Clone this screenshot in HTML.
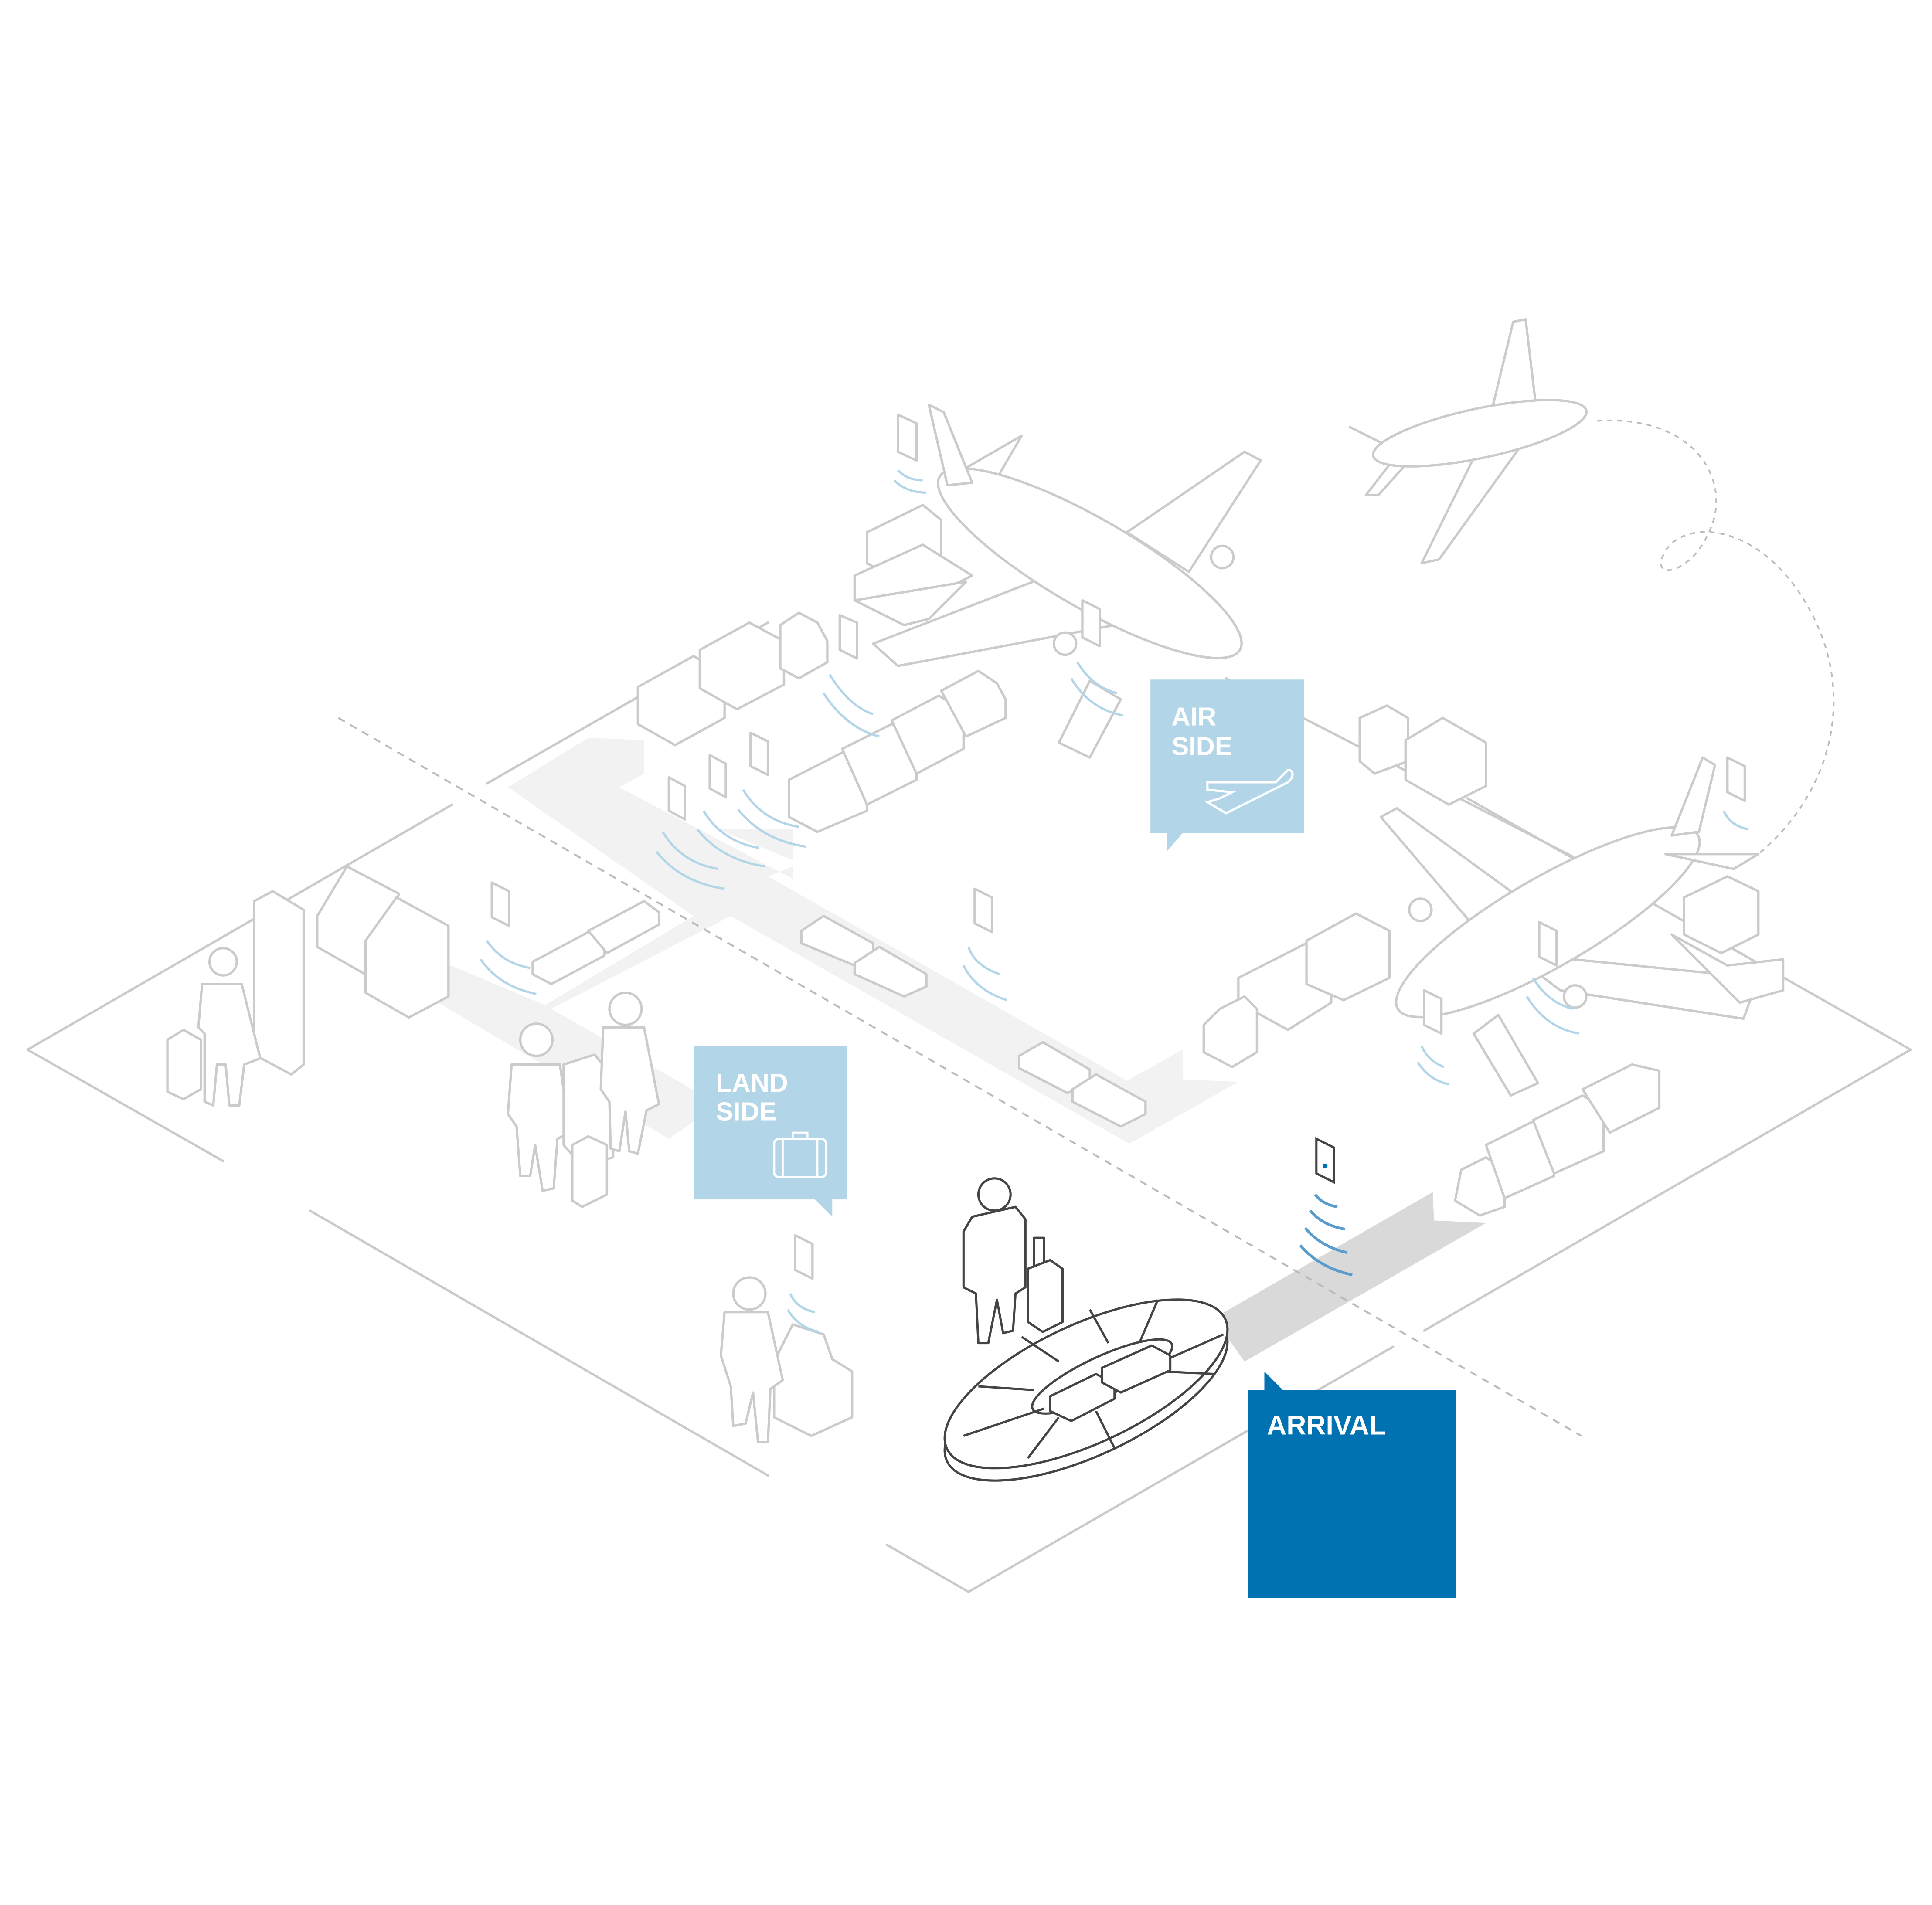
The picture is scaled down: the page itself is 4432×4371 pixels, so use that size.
<!DOCTYPE html>
<html><head><meta charset="utf-8"><style>
html,body{margin:0;padding:0;background:#fff;}
svg{display:block}
text{font-family:"Liberation Sans",sans-serif;font-weight:bold;fill:#fff}
</style></head><body>
<svg width="4432" height="4371" viewBox="0 0 1560 1539" xmlns="http://www.w3.org/2000/svg">
<g fill="none" stroke="#cbcbcb" stroke-width="1.9" stroke-linejoin="round" stroke-linecap="round">
<path d="M365,650 L22,848 L180,938"/>
<path d="M393,633 L620,503"/>
<path d="M990,548 L1270,692"/>
<path d="M1185,645 L1543,848 L1150,1075"/>
<path d="M250,978 L620,1192"/>
<path d="M716,1248 L782,1286 L1125,1088"/>
</g>
<path d="M410,636 L475,596 L520,598 L520,625 L500,636 L640,710 L640,695 L580,670 L640,670 L640,700 L620,708 L910,873 L955,848 L955,872 L1000,874 L912,924 L590,740 L445,815 L580,892 L540,920 L345,805 L340,770 L440,812 L560,740 Z" fill="#f2f2f2"/>
<path d="M980,1065 L1157,963 L1158,986 L1200,988 L1005,1100 Z" fill="#d9d9d9"/>
<path d="M273,580 L1277,1160" stroke="#bbb" stroke-width="1.5" stroke-dasharray="6,5" fill="none"/>
<path d="M1290,340 C1370,335 1400,390 1380,430 C1365,465 1330,470 1345,445 C1360,420 1420,420 1460,490 C1500,560 1480,640 1420,690" stroke="#bbb" stroke-width="1.3" stroke-dasharray="4,4" fill="none"/>
<g fill="#fff" stroke="#cbcbcb" stroke-width="1.9" stroke-linejoin="round">
<path d="M780,378 L825,352 L790,412 Z"/>
<path d="M910,430 L1005,365 L1018,372 L960,462 Z"/>
<path d="M705,520 L860,460 L900,505 L725,538 Z"/>
<ellipse cx="880" cy="455" rx="140" ry="36" transform="rotate(30 880 455)"/>
<path d="M750,327 L762,333 L785,390 L765,392 Z"/>
<circle cx="987" cy="450" r="9"/><circle cx="860" cy="520" r="9"/>
<path d="M1115,660 L1128,653 L1220,720 L1190,748 Z"/>
<path d="M1220,770 L1420,790 L1408,823 L1260,800 Z"/>
<ellipse cx="1250" cy="745" rx="140" ry="36" transform="rotate(-30 1250 745)"/>
<path d="M1375,612 L1385,618 L1372,672 L1350,675 Z"/>
<path d="M1345,690 L1420,690 L1400,702 Z"/>
<circle cx="1147" cy="735" r="9"/><circle cx="1272" cy="805" r="9"/>
<path d="M1148,455 L1200,350 L1232,355 L1162,452 Z"/>
<path d="M1205,330 L1222,260 L1232,258 L1240,325 Z"/>
<path d="M1090,345 L1130,365 L1103,400 L1113,400 L1140,370 Z"/>
<ellipse cx="1195" cy="350" rx="88" ry="20" transform="rotate(-12 1195 350)"/>
<path d="M515,555 L560,530 L585,545 L585,580 L545,602 L515,585 Z"/>
<path d="M565,525 L605,503 L633,518 L633,553 L595,573 L565,556 Z"/>
<path d="M630,505 L645,495 L660,503 L668,518 L668,535 L645,548 L630,540 Z"/>
<path d="M637,630 L680,608 L700,620 L700,655 L660,672 L637,660 Z"/>
<path d="M680,605 L720,585 L740,597 L740,630 L700,650 Z"/>
<path d="M720,582 L758,562 L778,574 L778,605 L740,625 Z"/>
<path d="M760,558 L790,542 L805,552 L812,565 L812,580 L780,595 Z"/>
<path d="M855,600 L880,550 L905,565 L880,612 Z"/>
<path d="M1098,580 L1120,570 L1137,580 L1137,615 L1110,625 L1098,615 Z"/>
<path d="M1135,598 L1165,580 L1200,600 L1200,635 L1170,650 L1135,630 Z"/>
<path d="M1000,790 L1055,762 L1075,775 L1075,810 L1040,832 L1000,810 Z"/>
<path d="M1055,760 L1095,738 L1122,752 L1122,790 L1085,808 L1055,795 Z"/>
<path d="M972,828 L985,815 L1005,805 L1015,815 L1015,850 L995,862 L972,850 Z"/>
<path d="M1190,835 L1210,820 L1242,875 L1220,885 Z"/>
<path d="M1360,725 L1395,708 L1420,720 L1420,755 L1390,770 L1360,755 Z"/>
<path d="M1350,755 L1395,780 L1440,775 L1440,800 L1405,810 Z"/>
<path d="M1180,945 L1200,935 L1215,945 L1215,975 L1195,982 L1175,970 Z"/>
<path d="M1200,925 L1240,905 L1255,913 L1255,950 L1215,968 Z"/>
<path d="M1238,905 L1278,885 L1295,895 L1295,930 L1255,948 Z"/>
<path d="M1278,880 L1318,860 L1340,865 L1340,895 L1300,915 Z"/>
<path d="M700,430 L745,408 L760,420 L760,450 L725,468 L700,455 Z"/>
<path d="M690,465 L745,440 L785,465 L735,490 L690,485 Z"/>
<path d="M690,485 L730,505 L750,500 L780,470 Z"/>
<path d="M430,777 L475,753 L488,762 L488,772 L445,795 L430,787 Z"/>
<path d="M475,752 L520,728 L532,737 L532,747 L490,770 Z"/>
<path d="M647,752 L665,740 L705,762 L705,772 L690,780 L647,762 Z"/>
<path d="M690,778 L710,765 L748,787 L748,797 L730,805 L690,787 Z"/>
<path d="M823,853 L842,842 L880,864 L880,874 L862,883 L823,863 Z"/>
<path d="M866,880 L885,868 L925,890 L925,900 L905,910 L866,890 Z"/>
<path d="M205,728 L220,720 L245,735 L245,860 L235,868 L205,852 Z"/>
<path d="M256,740 L280,700 L322,722 L300,790 L256,765 Z"/>
<path d="M295,760 L320,725 L362,748 L362,805 L330,822 L295,802 Z"/>
<circle cx="180" cy="777" r="11"/>
<path d="M163,795 L195,795 L210,855 L197,860 L193,893 L185,893 L182,860 L175,860 L172,893 L165,890 L165,835 L160,830 Z"/>
<path d="M135,840 L148,832 L162,840 L162,880 L148,888 L135,882 Z"/>
<circle cx="433" cy="840" r="13"/>
<path d="M413,860 L452,860 L460,915 L450,920 L447,960 L438,962 L432,925 L428,950 L420,950 L417,910 L410,900 Z"/>
<path d="M455,860 L480,852 L495,870 L495,935 L470,942 L455,925 Z"/>
<path d="M462,925 L475,918 L490,925 L490,965 L470,975 L462,970 Z"/>
<circle cx="505" cy="815" r="13"/>
<path d="M487,830 L520,830 L532,892 L522,897 L515,932 L508,930 L505,898 L500,930 L493,928 L492,890 L485,880 Z"/>
<path d="M640,1070 L665,1078 L672,1098 L688,1108 L688,1145 L655,1160 L625,1145 L625,1100 Z"/>
<circle cx="605" cy="1045" r="13"/>
<path d="M585,1060 L620,1060 L632,1115 L622,1122 L620,1165 L612,1165 L608,1125 L602,1150 L592,1152 L590,1120 L582,1095 Z"/>
<path d="M725,335 L740,342 L740,372 L725,365 Z"/>
<path d="M678,497 L692,503 L692,532 L678,525 Z"/>
<path d="M874,485 L888,492 L888,522 L874,515 Z"/>
<path d="M540,628 L553,635 L553,662 L540,655 Z"/>
<path d="M573,610 L586,617 L586,644 L573,637 Z"/>
<path d="M606,592 L620,599 L620,626 L606,619 Z"/>
<path d="M397,713 L411,720 L411,748 L397,741 Z"/>
<path d="M787,718 L801,725 L801,753 L787,746 Z"/>
<path d="M1243,745 L1257,752 L1257,780 L1243,773 Z"/>
<path d="M1150,800 L1164,807 L1164,835 L1150,828 Z"/>
<path d="M1395,612 L1409,619 L1409,647 L1395,640 Z"/>
<path d="M642,998 L656,1005 L656,1033 L642,1026 Z"/>
</g>
<g fill="none" stroke="#b3d5e8" stroke-width="1.8">
<path d="M725,380 q8,8 20,8 M722,388 q10,10 26,10 M670,545 q15,25 35,32 M665,560 q18,28 45,35 M870,535 q12,20 32,25 M865,548 q15,25 42,30 M535,672 q15,25 45,30 M530,688 q20,25 55,30 M568,655 q15,25 45,30 M563,670 q20,25 55,30 M600,638 q15,25 45,30 M596,654 q20,25 55,30 M393,760 q12,18 35,22 M388,775 q15,22 45,28 M782,765 q5,15 25,22 M778,780 q10,20 35,28 M1238,790 q12,20 32,25 M1233,805 q15,25 42,30 M1148,845 q5,12 18,17 M1145,858 q8,14 25,18 M1392,655 q5,12 20,15 M638,1045 q5,12 20,15 M636,1058 q8,14 25,18"/>
</g>
<path d="M1063,920 L1077,927 L1077,955 L1063,948 Z" fill="#fff" stroke="#444" stroke-width="1.8"/>
<circle cx="1070" cy="942" r="2" fill="#0072b1"/>
<g fill="none" stroke="#5a9ccc" stroke-width="2.2"><path d="M1062,965 q6,8 18,10 M1058,978 q10,12 28,15 M1054,992 q12,15 34,20 M1050,1006 q15,18 42,24"/></g>
<g fill="#fff" stroke="#444" stroke-width="1.8" stroke-linejoin="round">
<ellipse cx="877" cy="1128" rx="124" ry="48" transform="rotate(-25 877 1128)"/>
<ellipse cx="877" cy="1118" rx="124" ry="48" transform="rotate(-25 877 1118)"/>
<ellipse cx="890" cy="1112" rx="62" ry="16" transform="rotate(-25 890 1112)"/>
<path d="M835,1123 L790,1120 M843,1138 L778,1160 M855,1145 L830,1178 M885,1140 L900,1170 M940,1108 L980,1110 M945,1097 L988,1078 M920,1085 L935,1050 M895,1085 L880,1058 M855,1100 L825,1080" fill="none"/>
<path d="M848,1128 L885,1110 L900,1118 L900,1130 L865,1148 L848,1140 Z"/>
<path d="M890,1105 L930,1087 L945,1095 L945,1107 L905,1125 L890,1117 Z"/>
<circle cx="803" cy="965" r="13"/>
<path d="M785,983 L820,975 L828,985 L828,1040 L820,1045 L818,1075 L810,1077 L805,1050 L798,1085 L790,1085 L788,1045 L778,1040 L778,995 Z"/>
<path d="M835,1000 L843,1000 L843,1025 L835,1025 Z"/>
<path d="M830,1025 L848,1018 L858,1025 L858,1068 L842,1076 L830,1068 Z"/>
</g>
<path d="M929,549 H1053 V673 H955 L942,688 V673 H929 Z" fill="#b3d5e8"/>
<text x="946" y="586" font-size="21">AIR</text>
<text x="946" y="610" font-size="21">SIDE</text>
<path d="M975,632 L1030,632 L1040,622 C1045,622 1045,628 1040,632 L990,657 L975,648 L985,645 L995,640 L975,638 Z" fill="none" stroke="#fff" stroke-width="1.8"/>
<path d="M560,845 H684 V969 H672 V983 L658,969 H560 Z" fill="#b3d5e8"/>
<text x="578" y="882" font-size="21">LAND</text>
<text x="578" y="905" font-size="21">SIDE</text>
<rect x="625" y="920" width="42" height="31" rx="4" fill="none" stroke="#fff" stroke-width="1.8"/>
<path d="M640,920 V915 H652 V920 M632,920 V951 M660,920 V951" fill="none" stroke="#fff" stroke-width="1.5"/>
<path d="M1008,1123 H1021 V1108 L1036,1123 H1176 V1291 H1008 Z" fill="#0072b1"/>
<text x="1023" y="1159" font-size="22">ARRIVAL</text>
</svg>
</body></html>
